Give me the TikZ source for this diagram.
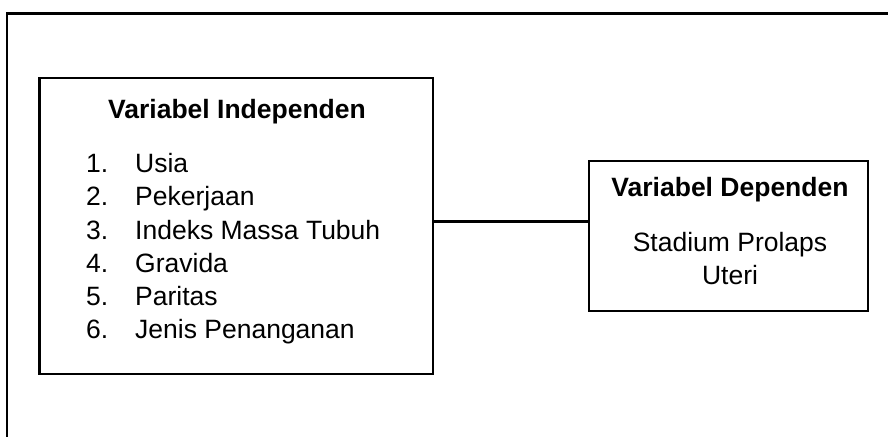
\documentclass[tikz,border=0pt]{standalone}
\usepackage{fontspec}
\setmainfont{Liberation Sans}
\begin{document}
\begin{tikzpicture}[x=1pt,y=1pt,
  box/.style={draw=black,line width=2.2pt,inner sep=0pt},
  txt/.style={inner sep=0pt,font=\fontsize{26.5}{30}\selectfont},
  ttl/.style={inner sep=0pt,font=\fontsize{26.5}{30}\selectfont\bfseries}]
\useasboundingbox (0,0) rectangle (888,436);
\draw[line width=2.8pt] (890,422.5) -- (7,422.5) -- (7,-2);
\node[box,minimum width=393.5pt,minimum height=296pt] (L) at (236.25,210) {};
\node[box,minimum width=278.7pt,minimum height=149.7pt] (R) at (728.35,200.15) {};
\coordinate (c) at (0,214.3);
\draw[line width=2.5pt] (L.east |- c) -- (R.west |- c);
\node[ttl,anchor=base] (t1) at (237,317) {Variabel Independen};
\node[txt,anchor=base west] (n1) at (86,263.7) {1.};
\node[txt,anchor=base west] (i1) at (135,263.7) {Usia};
\node[txt,anchor=base west] (n2) at (86,230.3) {2.};
\node[txt,anchor=base west] (i2) at (135,230.3) {Pekerjaan};
\node[txt,anchor=base west] (n3) at (86,196.7) {3.};
\node[txt,anchor=base west] (i3) at (135,196.7) {Indeks Massa Tubuh};
\node[txt,anchor=base west] (n4) at (86,163.7) {4.};
\node[txt,anchor=base west] (i4) at (135,163.7) {Gravida};
\node[txt,anchor=base west] (n5) at (86,130.7) {5.};
\node[txt,anchor=base west] (i5) at (135,130.7) {Paritas};
\node[txt,anchor=base west] (n6) at (86,97.7) {6.};
\node[txt,anchor=base west] (i6) at (135,97.7) {Jenis Penanganan};
\node[ttl,anchor=base] (t2) at (730,239.3) {Variabel Dependen};
\node[txt,anchor=base] (d1) at (730,184.3) {Stadium Prolaps};
\node[txt,anchor=base] (d2) at (730,151) {Uteri};
\end{tikzpicture}
\end{document}
